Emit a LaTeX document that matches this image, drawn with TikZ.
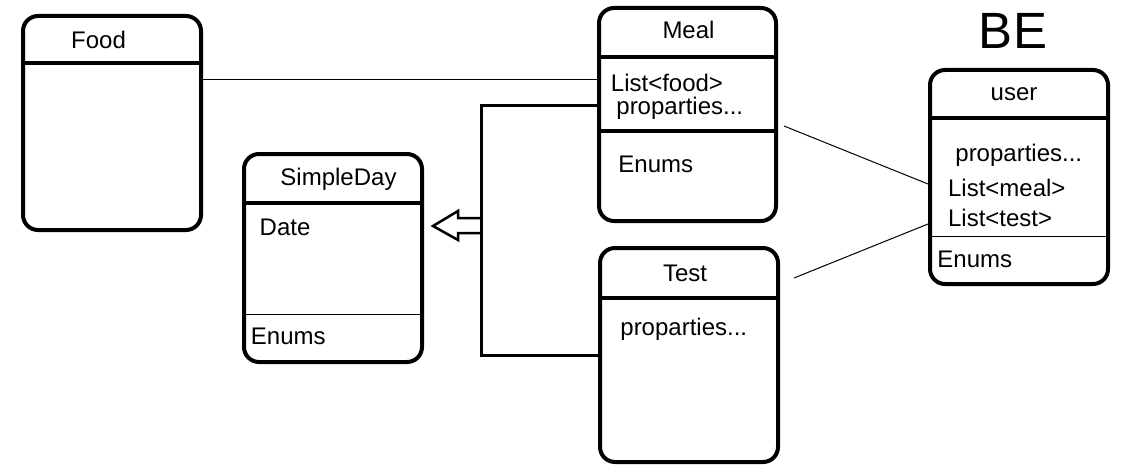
\documentclass[tikz,border=0pt]{standalone}
\usepackage{fontspec}
\setmainfont{Liberation Sans}
\usetikzlibrary{calc}
\usetikzlibrary{positioning}
\newcommand\classbox[4]{%
  \node[classbox,minimum width=#3,minimum height=#4] (#1) at (#2) {};
}
\newcommand\sepline[3][septhick]{%
  \draw[#1] ([yshift=-#3]#2.north west) -- ([yshift=-#3]#2.north east);
}

\begin{document}
\begin{tikzpicture}[
x=0.5pt, y=-0.5pt,
classbox/.style={
  rectangle,
  draw,
  line width=2pt,
  rounded corners=7.5pt,
  inner sep=0pt},
septhick/.style={line width=2pt},
septhin/.style={line width=0.5pt},
txt/.style={inner sep=0pt, anchor=base west, font=\fontsize{12}{14}\selectfont},
title/.style={txt, anchor=base},
link/.style={line width=0.5pt},
bracket/.style={line width=1.5pt},
hollow/.style={line width=1.25pt, line join=miter}
]
\useasboundingbox (0,0) rectangle (1129,476);

\classbox{food}{112,123}{89pt}{107pt}
\classbox{meal}{687.5,114.5}{88.5pt}{106.5pt}
\classbox{simpleday}{333,258}{89pt}{104pt}
\classbox{test}{689,355}{89pt}{107pt}
\classbox{user}{1019,177}{89pt}{107pt}

\sepline{food}{24.75pt}
\sepline{meal}{25.6pt}
\sepline{meal}{62.75pt}
\sepline{simpleday}{25.25pt}
\sepline[septhin]{simpleday}{81pt}
\sepline{test}{25.75pt}
\sepline{user}{24.9pt}
\sepline[septhin]{user}{84.2pt}

% texts
\node[title] (foodtitle) at (98.5,49) {Food};
\node[title] (mealtitle) at (688.5,39) {Meal};
\node[txt] (meallist) at (610.5,92) {List<food>};
\node[txt] (mealprop) at (616,114.3) {proparties...};
\node[txt] (mealenum) at (618,172) {Enums};
\node[title] (daytitle) at (338.5,185.7) {SimpleDay};
\node[txt] (daydate) at (259.3,235.7) {Date};
\node[txt] (dayenum) at (250.5,344) {Enums};
\node[title] (testtitle) at (685,281) {Test};
\node[txt] (testprop) at (620,335) {proparties...};
\node[title] (usertitle) at (1014,100.7) {user};
\node[txt] (userprop) at (955,161.7) {proparties...};
\node[txt] (usermeals) at (947.7,196.7) {List<meal>};
\node[txt] (usertests) at (947.7,226.7) {List<test>};
\node[txt] (userenum) at (937,267) {Enums};
\node[title, font=\fontsize{25.5}{30}\selectfont] (be) at (1013,48.3) {BE};

% links
\draw[link] ([yshift=21.5pt]food.east) -- ([yshift=17.25pt]meal.west);
\draw[link] ([xshift=3pt,yshift=-5.75pt]meal.east) -- ([yshift=-3.5pt]user.west);
\draw[link] ([xshift=7pt,yshift=38.5pt]test.east) -- ([yshift=-23.5pt]user.west);

% inheritance
\coordinate (junction) at (481,226);
\draw[bracket] ([yshift=4.25pt]meal.west) -| (junction) |- (test.west);
\draw[hollow] (junction) ++(0,-8) -- ++(-23,0) -- ++(0,-7) -- ++(-25,15)
  -- ++(25,14) -- ++(0,-7) -- ++(23,0);
\end{tikzpicture}
\end{document}
